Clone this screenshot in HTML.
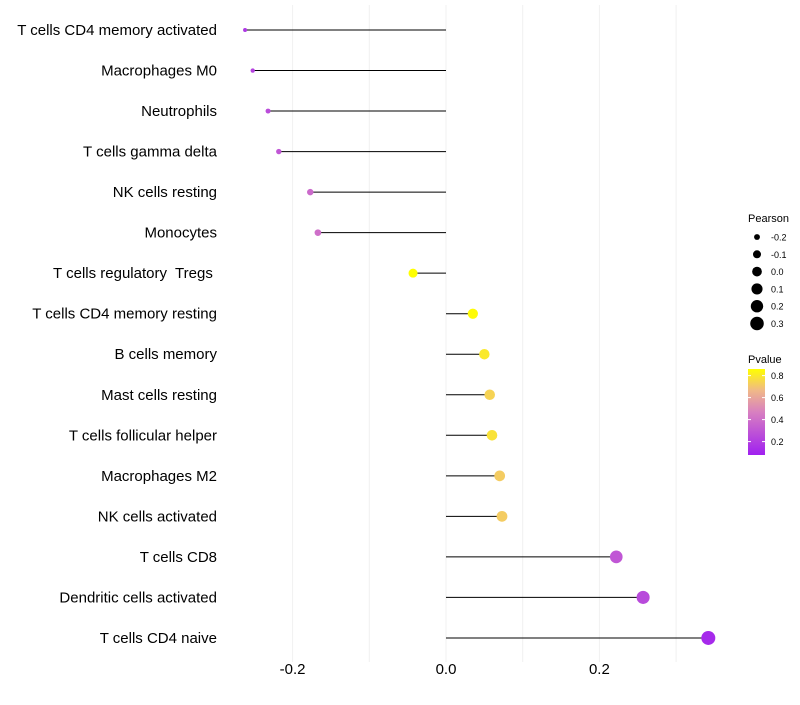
<!DOCTYPE html>
<html><head><meta charset="utf-8"><style>
body{margin:0;background:#fff;font-family:"Liberation Sans",sans-serif}
text{white-space:pre}
</style></head><body>
<svg id="chart" width="800" height="700" xmlns="http://www.w3.org/2000/svg" font-family="Liberation Sans, sans-serif">
<defs><linearGradient id="pg" x1="0" y1="1" x2="0" y2="0">
<stop offset="0" stop-color="#a020f0"/><stop offset="0.5" stop-color="#d880c0"/><stop offset="0.75" stop-color="#f0b888"/><stop offset="1" stop-color="#ffff00"/></linearGradient></defs>
<g id="grid"></g><g id="marks"></g><g id="ylabels"></g><g id="xlabels"></g><g id="legend"></g>
</svg>
<script>
const categories=["T cells CD4 memory activated","Macrophages M0","Neutrophils","T cells gamma delta","NK cells resting","Monocytes","T cells regulatory  Tregs ","T cells CD4 memory resting","B cells memory","Mast cells resting","T cells follicular helper","Macrophages M2","NK cells activated","T cells CD8","Dendritic cells activated","T cells CD4 naive"];
const pearson=[-0.262,-0.252,-0.232,-0.218,-0.177,-0.167,-0.043,0.035,0.050,0.057,0.060,0.070,0.073,0.222,0.257,0.342];
const pvalue=[0.18,0.22,0.26,0.30,0.38,0.40,0.86,0.85,0.80,0.74,0.78,0.72,0.72,0.30,0.25,0.12];
const xTicks=[-0.2,0,0.2];
const xTickLabels=["-0.2","0.0","0.2"];
const sizeLegend=[-0.2,-0.1,0.0,0.1,0.2,0.3];
const colorLegend=[0.8,0.6,0.4,0.2];
const NS="http://www.w3.org/2000/svg";
const x=v=>446+v*767;
const y=i=>30+i*40.53;
const r=v=>Math.sqrt(Math.max(1,23.5+74.5*v));
function lerp(a,b,t){return a.map((c,i)=>Math.round(c+(b[i]-c)*t));}
const stops=[[0,[160,32,240]],[0.5,[216,128,192]],[0.75,[240,184,136]],[1,[255,255,0]]];
function col(p){let t=Math.min(1,Math.max(0,(p-0.08)/0.78));for(let k=1;k<stops.length;k++){if(t<=stops[k][0]){const a=stops[k-1],b=stops[k];const c=lerp(a[1],b[1],(t-a[0])/(b[0]-a[0]));return `rgb(${c})`;}}return "rgb(255,255,0)";}
function mk(tag,attrs,parent,text){const e=document.createElementNS(NS,tag);for(const k in attrs)e.setAttribute(k,attrs[k]);if(text!=null)e.textContent=text;parent.appendChild(e);return e;}
const grid=document.getElementById('grid'),marks=document.getElementById('marks'),yl=document.getElementById('ylabels'),xl=document.getElementById('xlabels'),lg=document.getElementById('legend');
[-0.3,-0.2,-0.1,0,0.1,0.2,0.3].forEach(v=>{if(x(v)<225)return;const l=mk('line',{x1:x(v),x2:x(v),y1:5,y2:662,stroke:'#f0f0f0','stroke-width':1},grid);

});
categories.forEach((c,i)=>{
const ln=mk('line',{x1:x(0),x2:x(pearson[i]),y1:y(i),y2:y(i),stroke:'#000','stroke-width':1},marks);


const pt=mk('circle',{cx:x(pearson[i]),cy:y(i),r:r(pearson[i]),fill:col(pvalue[i])},marks);


const t=mk('text',{x:217,y:y(i)+5,'text-anchor':'end','font-size':15,fill:'#000'},yl,c);


});
xTicks.forEach((v,i)=>{const t=mk('text',{x:x(v),y:674,'text-anchor':'middle','font-size':15,fill:'#000'},xl,xTickLabels[i]);

});
const st=mk('text',{x:748,y:222,'font-size':11},lg,'Pearson');


sizeLegend.forEach((v,i)=>{const cy=237+i*17.3;
const c=mk('circle',{cx:757,cy:cy,r:r(v),fill:'#000'},lg);


const t=mk('text',{x:771,y:cy+3.5,'font-size':9},lg,v.toFixed(1));

});
const ct=mk('text',{x:748,y:363,'font-size':11},lg,'Pvalue');


const bar=mk('rect',{x:748,y:369,width:17,height:86,fill:'url(#pg)'},lg);


colorLegend.forEach(v=>{const cy=369+(0.86-v)*110;
const tk=mk('line',{x1:748,x2:751,y1:cy,y2:cy,stroke:'#fff'},lg);


const tk2=mk('line',{x1:762,x2:765,y1:cy,y2:cy,stroke:'#fff'},lg);


const t=mk('text',{x:771,y:cy+3.5,'font-size':9},lg,v.toFixed(1));

});
</script>
</body></html>
